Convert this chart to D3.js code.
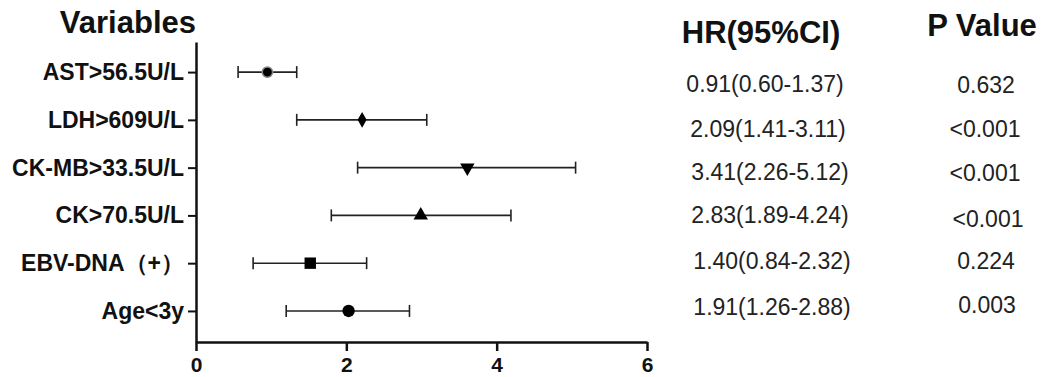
<!DOCTYPE html>
<html lang="en">
<meta charset="utf-8">
<style>
  body { margin: 0; background: #fff; }
  text { font-family: Arial, "Liberation Sans", sans-serif; fill: #111; }
  .bold { font-weight: bold; }
</style>
<script src="https://d3js.org/d3.v7.min.js"></script>
<body>
<div id="chart"></div>
<script>
// data, top row first
const variables = ["AST>56.5U/L", "LDH>609U/L", "CK-MB>33.5U/L", "CK>70.5U/L", "EBV-DNA（+）", "Age<3y"]
const hrPoint = [0.95, 2.21, 3.61, 2.99, 1.52, 2.03]
const ciLow = [0.56, 1.34, 2.15, 1.80, 0.76, 1.20]
const ciHigh = [1.34, 3.07, 5.05, 4.19, 2.27, 2.84]
const markers = ["circleSmall", "diamond", "triangleDown", "triangle", "square", "circle"]
const hrText = ["0.91(0.60-1.37)", "2.09(1.41-3.11)", "3.41(2.26-5.12)", "2.83(1.89-4.24)", "1.40(0.84-2.32)", "1.91(1.26-2.88)"]
const pText = ["0.632", "<0.001", "<0.001", "<0.001", "0.224", "0.003"]
const xTicks = [0, 2, 4, 6]

const W = 1053, H = 377
const FONT = "Arial, 'Liberation Sans', sans-serif"

const svg = d3.select("#chart").append("svg")
  .attr("width", W)
  .attr("height", H)

// scales
const x = d3.scaleLinear().domain([0, 6]).range([196, 647])
const y = d3.scaleLinear().domain([-0.63, 5.65]).range([42, 342])
const idx = d3.range(variables.length)

// axes
const xAxis = svg.append("g")
  .attr("transform", `translate(0, ${y(5.65)})`)
  .call(d3.axisBottom(x).tickValues(xTicks).tickFormat(d3.format("d")).tickSize(9).tickSizeOuter(0).tickPadding(6))
xAxis.select(".domain").attr("stroke", "#111").attr("stroke-width", 2.5)
xAxis.selectAll(".tick line").attr("stroke", "#111").attr("stroke-width", 2.5)
xAxis.selectAll(".tick text")
  .attr("class", "bold")
  .style("font-size", "21px")
  .style("font-family", FONT)
  .attr("fill", "#111")

const yAxis = svg.append("g")
  .attr("transform", `translate(${x(0)}, 0)`)
  .call(d3.axisLeft(y).tickValues(idx).tickFormat(i => variables[i]).tickSize(8).tickSizeOuter(0).tickPadding(4))
yAxis.select(".domain").attr("stroke", "#111").attr("stroke-width", 2.5)
yAxis.selectAll(".tick line").attr("stroke", "#111").attr("stroke-width", 2)
yAxis.selectAll(".tick text")
  .attr("class", "bold")
  .style("font-size", "23px")
  .style("font-family", FONT)
  .attr("fill", "#111")

// headers
svg.append("text").attr("class", "bold")
  .attr("x", 196).attr("y", 33)
  .attr("text-anchor", "end")
  .style("font-size", "31px")
  .text("Variables")

svg.append("text").attr("class", "bold")
  .attr("x", 761).attr("y", 43)
  .attr("text-anchor", "middle")
  .style("font-size", "31px")
  .text("HR(95%CI)")

svg.append("text").attr("class", "bold")
  .attr("x", 982).attr("y", 36)
  .attr("text-anchor", "middle")
  .style("font-size", "31px")
  .text("P Value")

// error bars
const bars = svg.append("g")
bars.selectAll(".ci")
  .data(idx)
  .join("line")
  .attr("x1", i => x(ciLow[i]))
  .attr("x2", i => x(ciHigh[i]))
  .attr("y1", i => y(i))
  .attr("y2", i => y(i))
  .attr("stroke", "#222")
  .attr("stroke-width", 1.6)

bars.selectAll(".capL")
  .data(idx)
  .join("line")
  .attr("x1", i => x(ciLow[i]))
  .attr("x2", i => x(ciLow[i]))
  .attr("y1", i => y(i) - 6)
  .attr("y2", i => y(i) + 6)
  .attr("stroke", "#222")
  .attr("stroke-width", 1.6)

bars.selectAll(".capR")
  .data(idx)
  .join("line")
  .attr("x1", i => x(ciHigh[i]))
  .attr("x2", i => x(ciHigh[i]))
  .attr("y1", i => y(i) - 6)
  .attr("y2", i => y(i) + 6)
  .attr("stroke", "#222")
  .attr("stroke-width", 1.6)

// markers
const symbolFor = {
  circleSmall: d3.symbol(d3.symbolCircle, 85),
  circle: d3.symbol(d3.symbolCircle, 120),
  diamond: d3.symbol(d3.symbolDiamond, 70),
  square: d3.symbol(d3.symbolSquare, 130),
  triangle: d3.symbol(d3.symbolTriangle, 90),
  triangleDown: d3.symbol(d3.symbolTriangle, 90)
}
svg.append("g").selectAll("path")
  .data(idx)
  .join("path")
  .attr("d", i => symbolFor[markers[i]]())
  .attr("transform", i => `translate(${x(hrPoint[i])}, ${y(i)})` + (markers[i] === "triangleDown" ? " rotate(180)" : ""))
  .attr("fill", "#000")
  .attr("stroke", i => markers[i] === "circleSmall" ? "#888" : "none")
  .attr("stroke-width", 1.5)

// right-hand table
const hrX = [765, 768, 770, 770, 772, 772]
const hrY = [92, 137, 180, 223, 269, 315]
svg.append("g").selectAll("text")
  .data(idx)
  .join("text")
  .attr("x", i => hrX[i])
  .attr("y", i => hrY[i])
  .attr("text-anchor", "middle")
  .style("font-size", "23px")
  .style("fill", "#222")
  .text(i => hrText[i])

const pX = [986, 985, 985, 988, 986, 987]
const pY = [93, 137, 181, 227, 269, 313]
svg.append("g").selectAll("text")
  .data(idx)
  .join("text")
  .attr("x", i => pX[i])
  .attr("y", i => pY[i])
  .attr("text-anchor", "middle")
  .style("font-size", "23px")
  .style("fill", "#222")
  .text(i => pText[i])
</script>
</body>
</html>
